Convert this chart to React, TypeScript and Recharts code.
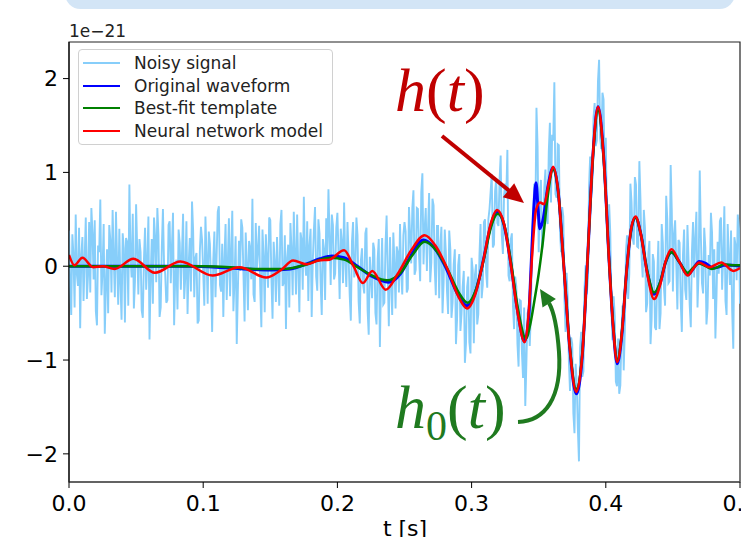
import { LineChart, Line, XAxis, YAxis, ReferenceArea } from 'recharts'

// noisy strain samples, one every NOISE_DT seconds starting at t = 0 (units of 1e-21)
const NOISE_DT = 1 / 1200
const noisySignal = [
  0.38, -0.21, -0.52, 0.34, 0.12, -0.44, 0.55, -0.08, -0.21, 0.41, -0.66, 0.12, 0.31, -0.37, 0.08, 0.52, -0.35, -0.1, 0.47, -0.28, 0.62, 0.36, -0.14, 0.49, -0.48, -0.63, 0.22, 0.15, 0.71, -0.31, -0.05, 0.45, -0.72, -0.22, 0.18, -0.5, 0.44, 0.27, -0.28, 0.6, 0.09, -0.33, 0.58, 0.05, -0.41, 0.4, -0.19, -0.57, 0.35, 0.19, -0.6, 0.3, 0.26, -0.42, 0.87, 0.11, -0.12, 0.56, -0.45, -0.16,
  0.66, 0.18, -0.3, 0.29, 0.15, -0.47, -0.55, 0.07, 0.41, -0.25, 0.05, 0.53, -0.78, -0.12, 0.29, -0.4, 0.52, 0.31, -0.17, 0.62, 0.33, -0.54, -0.44, 0.2, 0.61, 0.02, -0.08, -0.39, -0.36, 0.44, 0.48, -0.18, 0.2, 0.57, -0.63, -0.09, 0.07, -0.46, 0.39, 0.25, -0.25, 0.13, 0.56, -0.35, -0.11, 0.48, -0.51, 0.01, 0.3, -0.27, 0.69, 0.38, -0.33, 0.09, 0.14, -0.61, -0.58, 0.16, 0.42, 0.28,
  -0.06, -0.42, 0.53, 0.1, -0.4, 0.37, 0.24, -0.15, -0.7, 0.06, 0.37, -0.33, 0.1, 0.58, 0.64, -0.2, -0.27, 0.24, -0.54, 0.08, 0.45, -0.36, 0.02, 0.51, -0.32, 0.14, 0.59, -0.48, -0.15, 0.32, -0.83, -0.26, 0.27, -0.05, 0.5, 0.41, -0.09, -0.59, 0.36, 0.03, -0.47, 0.27, 0.19, -0.14, 0.72, -0.3, -0.38, 0.46, -0.02, 0.17, 0.43, -0.22, -0.65, 0.39, 0.11, -0.49, 0.34, 0.08, -0.23, 0.52,
  0.49, -0.13, -0.56, 0.26, 0.04, -0.38, 0.31, -0.05, -0.42, 0.45, 0.6, -0.21, -0.18, 0.33, -0.67, 0.09, 0.23, -0.44, 0.46, 0.17, -0.31, 0.58, 0.13, -0.3, 0.55, -0.02, -0.49, 0.36, 0.28, -0.25, 0.74, 0.07, -0.1, 0.48, -0.37, 0.22, 0.4, -0.54, 0.06, 0.39, 0.63, -0.11, -0.26, 0.5, 0.35, -0.18, -0.52, 0.29, 0.18, -0.36, 0.51, 0.12, 0.82, 0.31, -0.2, 0.55, 0.44, -0.14, -0.08, 0.41,
  0.57, 0.14, -0.35, 0.4, 0.26, -0.18, 0.68, 0.05, -0.22, 0.47, 0.12, -0.31, -0.58, 0.26, 0.47, -0.12, -0.04, 0.52, 0.33, -0.38, -0.61, 0.06, 0.19, -0.2, -0.29, 0.35, 0.41, -0.47, -0.73, 0.1, -0.12, -0.34, 0.25, 0.18, -0.5, -0.62, 0.08, 0.29, -0.86, -0.15, 0.3, -0.41, -0.39, 0.22, 0.54, -0.08, -0.64, 0.31, -0.18, -0.52, 0.36, 0.04, -0.45, 0.21, 0.15, -0.28, 0.45, -0.06, -0.3, 0.33,
  0.47, 0.37, -0.28, -0.24, 0.63, 0.34, 0.03, 0.62, 0.81, -0.09, -0.04, 0.62, 0.61, 0.12, -0.16, 0.79, 0.99, 0.02, 0.39, 0.62, -0.05, 0.37, 0.78, -0.17, 0.04, 0.72, 0.65, -0.01, -0.31, 0.43, 0.43, -0.34, 0.21, 0.42, -0.5, -0.17, 0.39, 0.14, -0.27, -0.51, 0.38, 0.18, -0.55, -0.39, 0.02, 0.18, -0.83, -0.57, 0.01, 0.13, -0.69, -0.51, -0.22, -0.05, -1.03, -0.82, -0.22, -0.11, -0.81, -0.93,
  0.09, -0.04, -0.82, -0.09, 0.02, -0.62, -0.51, 0.11, 0.45, -0.34, -0.2, 0.47, 0.5, -0.07, -0.23, 0.5, 0.61, 0.79, 0.98, 0.2, 0.23, 0.8, 0.93, 0.46, 0.43, 0.92, 1.18, 0.33, 0.13, 0.75, 0.88, 0.74, 1.24, -0.1, -0.16, 0.28, 0.35, -0.43, -0.67, -0.11, -0.22, -0.83, -1.07, -0.36, -0.37, -0.92, -1.19, -0.44, -1.49, -1.03, -0.5, -0.46, -0.85, -0.5, 0.25, 0.5, 0.88, 0.5, 1.69, 1.28,
  0.15, 0.77, 0.92, 0.18, 0.25, 0.84, 1.03, 0.51, 0.45, 1.22, 1.53, 0.68, 1.4, 1.34, 1.96, 0.77, 0.73, 1.3, 1.29, 0.39, 0.15, 0.63, 0.53, -0.34, -0.7, -0.07, -0.35, -1.02, -1.33, -0.76, -0.83, -1.57, -1.78, -1.04, -1.24, -1.73, -2.08, -0.87, -0.7, -1.18, -1.12, -0.23, 0.01, -0.3, -0.13, 0.84, 1.17, 0.73, 0.92, 1.58, 1.74, 1.28, 1.34, 1.97, 2.2, 1.36, 1.25, 1.85, 1.78, 0.92,
  1.37, 0.48, 0.22, 0.66, 0.36, -0.45, -0.79, -0.32, -0.53, -1.23, -1.28, -0.77, -1.36, -1.27, -0.72, -0.42, -1.11, -0.69, 0.15, 0.33, -0.35, -0.08, 0.88, 0.69, 0.3, 0.23, 0.95, 0.87, 0.21, 0.2, 1.12, 0.72, 0.09, -0.12, 0.6, 0.41, -0.49, -0.4, 0.14, 0.27, -0.83, -0.56, 0.13, 0.05, -0.65, -0.68, -0.11, 0.27, -0.67, -0.5, 0.45, 0.25, -0.23, -0.42, 0.75, 0.5, -0.18, -0.16, 1.08, 0.6,
  -0.27, 0.35, 0.49, 0.02, -0.46, 0.28, 0.25, -0.38, -0.7, 0.12, 0.39, -0.25, -0.36, 0.44, 0.06, -0.41, -0.65, 0.15, 0.47, -0.12, 0.3, 0.58, -0.44, -0.06, 1.02, 0.33, -0.18, -0.29, 0.41, 0.2, -0.62, -0.45, 0.12, -0.1, 0.57, 0.36, -0.35, 0.18, -0.77, -0.32, 0.26, -0.08, 0.48, 0.52, -0.25, 0.1, 0.64, -0.37, -0.52, 0.45, 0.08, -0.2, 0.38, -0.48, -0.88, 0.31, 0.22, -0.15, 0.55, 0.4, -0.4,
]

// original waveform
const originalT = [0, 0.03, 0.06, 0.09, 0.11, 0.13, 0.15, 0.165, 0.178, 0.187, 0.196, 0.205, 0.215, 0.226, 0.238, 0.247, 0.255, 0.264, 0.272, 0.281, 0.289, 0.2966, 0.303, 0.309, 0.314, 0.319, 0.324, 0.329, 0.334, 0.3395, 0.3425, 0.3445, 0.3465, 0.348, 0.3495, 0.3508, 0.353, 0.357, 0.3607, 0.3645, 0.3685, 0.373, 0.378, 0.3825, 0.3865, 0.3905, 0.3942, 0.3985, 0.4025, 0.4055, 0.4085, 0.412, 0.4155, 0.419, 0.4222, 0.426, 0.431, 0.436, 0.4405, 0.4445, 0.449, 0.455, 0.461, 0.4655, 0.4695, 0.4745, 0.48, 0.484, 0.488, 0.494, 0.5]
const originalH = [0, 0, 0, 0, -0.01, -0.03, -0.04, -0.03, 0.03, 0.08, 0.11, 0.09, 0, -0.11, -0.17, -0.08, 0.12, 0.28, 0.2, -0.02, -0.28, -0.42, -0.27, 0.08, 0.42, 0.58, 0.45, 0.05, -0.45, -0.8, -0.55, 0.05, 0.65, 0.89, 0.62, 0.4, 0.48, 0.86, 1.05, 0.8, 0.05, -0.85, -1.36, -0.95, 0.1, 1.2, 1.7, 1.15, 0.05, -0.65, -1.04, -0.72, -0.05, 0.4, 0.52, 0.35, -0.07, -0.3, -0.18, 0.04, 0.15, 0.04, -0.09, -0.02, 0.05, 0.03, -0.02, -0.01, 0.01, 0.01, 0]

// best-fit template
const templateT = [0, 0.05, 0.1, 0.12, 0.14, 0.16, 0.175, 0.185, 0.195, 0.205, 0.215, 0.226, 0.237, 0.247, 0.256, 0.265, 0.273, 0.282, 0.29, 0.297, 0.3035, 0.3095, 0.3145, 0.3195, 0.3245, 0.3295, 0.3345, 0.3405, 0.344, 0.347, 0.35, 0.353, 0.3565, 0.3607, 0.3645, 0.3685, 0.373, 0.378, 0.3825, 0.3865, 0.3905, 0.3942, 0.3985, 0.4025, 0.4055, 0.4085, 0.412, 0.4155, 0.419, 0.4222, 0.426, 0.431, 0.436, 0.4405, 0.4445, 0.449, 0.455, 0.461, 0.4655, 0.4695, 0.4745, 0.479, 0.4835, 0.488, 0.494, 0.5]
const templateH = [0, 0, 0, -0.01, -0.03, -0.03, 0.01, 0.06, 0.09, 0.07, -0.01, -0.1, -0.15, -0.07, 0.12, 0.26, 0.18, -0.03, -0.27, -0.39, -0.24, 0.1, 0.42, 0.56, 0.43, 0.03, -0.45, -0.77, -0.6, -0.35, -0.08, 0.25, 0.72, 1.03, 0.8, 0.05, -0.83, -1.31, -0.93, 0.1, 1.18, 1.66, 1.13, 0.05, -0.63, -1, -0.7, -0.05, 0.4, 0.52, 0.35, -0.06, -0.28, -0.17, 0.04, 0.15, 0.04, -0.07, -0.01, 0.03, 0, -0.03, -0.01, 0.02, 0.01, 0.01]

// neural network model
const modelT = [0, 0.004, 0.01, 0.018, 0.025, 0.034, 0.048, 0.064, 0.083, 0.107, 0.127, 0.147, 0.158, 0.167, 0.177, 0.186, 0.194, 0.205, 0.212, 0.219, 0.226, 0.236, 0.245, 0.255, 0.265, 0.273, 0.282, 0.29, 0.2966, 0.303, 0.309, 0.314, 0.319, 0.324, 0.329, 0.334, 0.3395, 0.3425, 0.3455, 0.348, 0.351, 0.354, 0.3575, 0.3607, 0.3645, 0.3685, 0.373, 0.378, 0.3825, 0.3865, 0.3905, 0.3942, 0.3985, 0.4025, 0.4055, 0.4085, 0.412, 0.4155, 0.419, 0.4222, 0.426, 0.431, 0.436, 0.4405, 0.4445, 0.449, 0.455, 0.461, 0.4655, 0.4695, 0.477, 0.486, 0.495, 0.5]
const modelH = [0.12, 0.01, 0.09, -0.01, 0, -0.03, 0.08, -0.07, 0.05, -0.1, -0.01, -0.12, -0.04, 0.06, 0.02, 0.06, 0.07, 0.17, 0, -0.18, -0.05, -0.25, -0.08, 0.17, 0.33, 0.22, -0.03, -0.32, -0.45, -0.29, 0.08, 0.44, 0.6, 0.46, 0.04, -0.47, -0.81, -0.5, 0.2, 0.6, 0.68, 0.66, 0.88, 1.06, 0.8, 0.04, -0.85, -1.34, -0.94, 0.1, 1.21, 1.7, 1.14, 0.04, -0.65, -1.02, -0.71, -0.05, 0.41, 0.53, 0.35, -0.09, -0.35, -0.2, 0.05, 0.18, 0.04, -0.1, -0.02, 0.04, -0.01, 0.04, -0.05, -0.02]

const xTicks = [0, 0.1, 0.2, 0.3, 0.4, 0.5]
const yTicks = [-2, -1, 0, 1, 2]
const seriesNames = ['Noisy signal', 'Original waveform', 'Best-fit template', 'Neural network model']
const seriesColors = ['#87cefa', '#0000ff', '#008000', '#ff0000']

const FONT = '"DejaVu Sans", sans-serif'

export default function App() {
  const noisyData = noisySignal.map((h, i) => ({ t: i * NOISE_DT, h }))
  const originalData = originalT.map((t, i) => ({ t, h: originalH[i] }))
  const templateData = templateT.map((t, i) => ({ t, h: templateH[i] }))
  const modelData = modelT.map((t, i) => ({ t, h: modelH[i] }))

  return (
    <div style={{ position: 'absolute', left: 0, top: 0, width: 741, height: 537, overflow: 'hidden', background: '#fff', fontFamily: FONT }}>
      {/* slide box peeking in at the top */}
      <div style={{ position: 'absolute', left: 65, top: -22, width: 670, height: 31, borderRadius: 16, background: '#d3e5f6' }} />

      <LineChart width={760} height={537} margin={{ top: 42, right: 20, left: 0, bottom: 0 }} style={{ position: 'absolute', left: 0, top: 0 }}>
        <XAxis
          dataKey="t"
          type="number"
          domain={[0, 0.5]}
          ticks={xTicks}
          interval={0}
          allowDataOverflow
          tickFormatter={(v: number) => v.toFixed(1)}
          height={55}
          tickSize={6}
          tickMargin={7}
          tick={{ fontSize: 22, fill: '#000', fontFamily: FONT }}
          tickLine={{ stroke: '#000' }}
          axisLine={{ stroke: '#555', strokeWidth: 1.5 }}
        />
        <YAxis
          type="number"
          domain={[-2.3, 2.39]}
          ticks={yTicks}
          interval={0}
          allowDataOverflow
          tickFormatter={(v: number) => String(v).replace('-', '\u2212')}
          width={69}
          tickSize={6}
          tickMargin={5}
          tick={{ fontSize: 22, fill: '#000', fontFamily: FONT }}
          tickLine={{ stroke: '#000' }}
          axisLine={{ stroke: '#000' }}
        />
        <ReferenceArea x1={0} x2={0.5} y1={-2.3} y2={2.39} fill="none" stroke="#222" strokeWidth={1.2} />
        <Line data={noisyData} dataKey="h" type="linear" stroke={seriesColors[0]} strokeWidth={1.9} dot={false} isAnimationActive={false} />
        <Line data={originalData} dataKey="h" type="monotone" stroke={seriesColors[1]} strokeWidth={3} dot={false} isAnimationActive={false} />
        <Line data={templateData} dataKey="h" type="monotone" stroke={seriesColors[2]} strokeWidth={2.5} dot={false} isAnimationActive={false} />
        <Line data={modelData} dataKey="h" type="monotone" stroke={seriesColors[3]} strokeWidth={2.5} dot={false} isAnimationActive={false} />
      </LineChart>

      {/* legend */}
      <div style={{ position: 'absolute', left: 78, top: 49, width: 255, height: 96, border: '1px solid #d0d0d0', borderRadius: 4, background: 'rgba(255,255,255,0.85)', boxSizing: 'border-box' }}>
        {seriesNames.map((name, i) => (
          <div key={name} style={{ position: 'absolute', left: 0, top: 2 + i * 22.5, height: 22.5, display: 'flex', alignItems: 'center' }}>
            <div style={{ width: 37, height: 2, background: seriesColors[i], marginLeft: 4 }} />
            <span style={{ marginLeft: 14, fontSize: 17, color: '#222', whiteSpace: 'nowrap' }}>{name}</span>
          </div>
        ))}
      </div>

      {/* offset text, axis label and annotations */}
      <svg width={741} height={537} style={{ position: 'absolute', left: 0, top: 0, pointerEvents: 'none' }}>
        <text x={69} y={37} fontSize={17} fontFamily={FONT} fill="#222">1e−21</text>
        <text x={405} y={536} fontSize={22} fontFamily={FONT} fill="#000" textAnchor="middle">t [s]</text>

        <text x={395} y={111} fontSize={62} fontFamily='"Liberation Serif", serif' fill="#c00000">
          <tspan fontStyle="italic">h</tspan>
          <tspan>(</tspan>
          <tspan fontStyle="italic">t</tspan>
          <tspan>)</tspan>
        </text>
        <line x1={442} y1={136} x2={512} y2={193} stroke="#c00000" strokeWidth={4} />
        <polygon points="524,203 502.8,197.3 514.2,183.3" fill="#c00000" />

        <text x={395} y={428} fontSize={62} fontFamily='"Liberation Serif", serif' fill="#1f7a1f">
          <tspan fontStyle="italic">h</tspan>
          <tspan fontSize={42} dy={12}>0</tspan>
          <tspan dy={-12}>(</tspan>
          <tspan fontStyle="italic">t</tspan>
          <tspan>)</tspan>
        </text>
        <path d="M518,422 C545,421 562,398 559,352 C557,325 553,310 549,303" fill="none" stroke="#1f7a1f" strokeWidth={4} />
        <polygon points="540,289 555.9,299 542.5,307.6" fill="#1f7a1f" />
      </svg>
    </div>
  )
}
